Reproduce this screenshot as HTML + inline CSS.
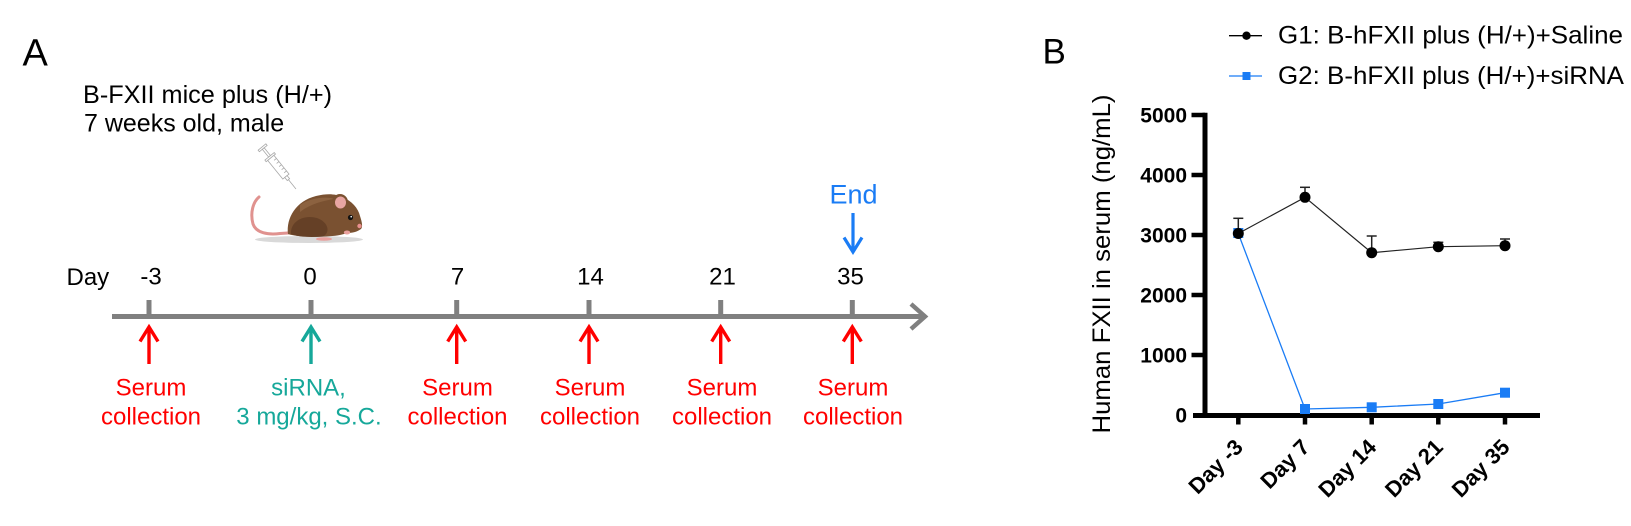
<!DOCTYPE html>
<html><head><meta charset="utf-8"><style>
html,body{margin:0;padding:0;background:#fff;}
svg{display:block;}
text{font-family:"Liberation Sans",Arial,sans-serif;}
</style></head><body>
<svg width="1631" height="526" viewBox="0 0 1631 526" xmlns="http://www.w3.org/2000/svg">
<rect width="1631" height="526" fill="#fff"/>

<!-- ========== Panel A ========== -->
<text x="22.5" y="65.7" font-size="38" fill="#000">A</text>
<text x="83" y="103" font-size="25" fill="#000" textLength="249" lengthAdjust="spacingAndGlyphs">B-FXII mice plus (H/+)</text>
<text x="84" y="131.5" font-size="25" fill="#000">7 weeks old, male</text>

<!-- syringe -->
<g transform="translate(262,147) rotate(51)" stroke="#a8a8a8" stroke-width="0.8" fill="#fff">
  <rect x="0" y="-5" width="2" height="10"/>
  <rect x="2" y="-1.2" width="10" height="2.4"/>
  <rect x="12" y="-6" width="2" height="12"/>
  <rect x="14" y="-4" width="24" height="8"/>
  <line x1="18" y1="-4" x2="18" y2="-1"/>
  <line x1="22" y1="-4" x2="22" y2="-1"/>
  <line x1="26" y1="-4" x2="26" y2="-1"/>
  <line x1="30" y1="-4" x2="30" y2="-1"/>
  <line x1="34" y1="-4" x2="34" y2="-1"/>
  <rect x="38" y="-1.5" width="4" height="3"/>
  <line x1="42" y1="0" x2="54" y2="0"/>
</g>

<!-- mouse -->
<ellipse cx="309" cy="239.5" rx="54" ry="3.5" fill="#d9d9d9"/>
<path d="M259 197 C253 202,250 213,253 224 C256 233,268 235,280 233.5 L296 232.5" stroke="#e0928f" stroke-width="3" fill="none" stroke-linecap="round"/>
<path d="M288 234 C286 218,296 201,316 196 C328 193,336 194,342 197 C352 201,358 208,360 216 C362 222,363 227,361 229 C357 232,352 233,348 233 L340 235 C330 237,300 238,288 234 Z" fill="#7a5131"/>
<path d="M300 205 C310 198,325 196,335 199 C325 200,310 204,300 212 Z" fill="#8c6240"/>
<path d="M291 234 C290 222,303 214,317 218 C328 222,331 232,323 236.5 C310 237.5,298 237,291 234 Z" fill="#654026"/>
<circle cx="340" cy="202" r="8" fill="#7a5131"/>
<ellipse cx="340.5" cy="202.5" rx="5.5" ry="6" fill="#e8a5a2"/>
<circle cx="350.5" cy="217.5" r="2.6" fill="#111"/>
<circle cx="351.2" cy="216.7" r="0.8" fill="#fff"/>
<circle cx="359.5" cy="226" r="2.2" fill="#e9908e"/>
<ellipse cx="347" cy="232.5" rx="3.2" ry="2" fill="#e9a09d"/>
<ellipse cx="324" cy="239" rx="8" ry="1.8" fill="#e9a09d"/>

<!-- End label and arrow -->
<text x="853.5" y="203.5" font-size="27" fill="#1a7cf5" text-anchor="middle">End</text>
<line x1="853" y1="213" x2="853" y2="251" stroke="#1a7cf5" stroke-width="3.2"/>
<polyline points="844,237.5 853,252 862,237.5" stroke="#1a7cf5" stroke-width="3.2" fill="none"/>

<!-- Day labels -->
<g font-size="24" fill="#000">
  <text x="66.5" y="285">Day</text>
  <text x="151" y="284.5" text-anchor="middle">-3</text>
  <text x="310" y="284.5" text-anchor="middle">0</text>
  <text x="457.5" y="284.5" text-anchor="middle">7</text>
  <text x="590.5" y="284.5" text-anchor="middle">14</text>
  <text x="722.5" y="284.5" text-anchor="middle">21</text>
  <text x="850.5" y="284.5" text-anchor="middle">35</text>
</g>

<!-- timeline -->
<line x1="112" y1="316.5" x2="923" y2="316.5" stroke="#808080" stroke-width="5"/>
<polyline points="911,304 925,316.5 911,329" stroke="#808080" stroke-width="4.5" fill="none"/>
<g fill="#808080">
  <rect x="146.5" y="300" width="5" height="16"/>
  <rect x="308.5" y="300" width="5" height="16"/>
  <rect x="454.2" y="300" width="5" height="16"/>
  <rect x="586.5" y="300" width="5" height="16"/>
  <rect x="718.2" y="300" width="5" height="16"/>
  <rect x="849.8" y="300" width="5" height="16"/>
</g>

<!-- up arrows -->
<g stroke="#ff0000" stroke-width="3.4" fill="none">
  <line x1="149" y1="327" x2="149" y2="364"/><polyline points="140,341.5 149,327 158,341.5"/>
  <line x1="456.7" y1="327" x2="456.7" y2="364"/><polyline points="447.7,341.5 456.7,327 465.7,341.5"/>
  <line x1="589" y1="327" x2="589" y2="364"/><polyline points="580,341.5 589,327 598,341.5"/>
  <line x1="720.7" y1="327" x2="720.7" y2="364"/><polyline points="711.7,341.5 720.7,327 729.7,341.5"/>
  <line x1="852.3" y1="327" x2="852.3" y2="364"/><polyline points="843.3,341.5 852.3,327 861.3,341.5"/>
</g>
<g stroke="#16a89a" stroke-width="3.4" fill="none">
  <line x1="311" y1="327" x2="311" y2="364"/><polyline points="302,341.5 311,327 320,341.5"/>
</g>

<!-- bottom labels -->
<g font-size="24" fill="#ff0000" text-anchor="middle">
  <text x="151" y="395.5">Serum</text><text x="151" y="424.5">collection</text>
  <text x="457.5" y="395.5">Serum</text><text x="457.5" y="424.5">collection</text>
  <text x="590" y="395.5">Serum</text><text x="590" y="424.5">collection</text>
  <text x="722" y="395.5">Serum</text><text x="722" y="424.5">collection</text>
  <text x="853" y="395.5">Serum</text><text x="853" y="424.5">collection</text>
</g>
<g font-size="24" fill="#16a89a" text-anchor="middle">
  <text x="308.5" y="395.5">siRNA,</text>
  <text x="309" y="424.5">3 mg/kg, S.C.</text>
</g>

<!-- ========== Panel B ========== -->
<text x="1042.5" y="63.3" font-size="35" fill="#000">B</text>

<!-- legend -->
<line x1="1229" y1="35.7" x2="1262" y2="35.7" stroke="#000" stroke-width="1.3"/>
<circle cx="1246.5" cy="35.7" r="4.2" fill="#000"/>
<text x="1278" y="43.5" font-size="25" fill="#000" textLength="345" lengthAdjust="spacingAndGlyphs">G1: B-hFXII plus (H/+)+Saline</text>
<line x1="1229" y1="76" x2="1262" y2="76" stroke="#1a7cf5" stroke-width="1.3"/>
<rect x="1242.5" y="72" width="8" height="8" fill="#1a7cf5"/>
<text x="1278" y="84" font-size="25" fill="#000" textLength="346" lengthAdjust="spacingAndGlyphs">G2: B-hFXII plus (H/+)+siRNA</text>

<!-- y label -->
<text transform="translate(1110,264) rotate(-90)" text-anchor="middle" font-size="25" fill="#000" textLength="339" lengthAdjust="spacingAndGlyphs">Human FXII in serum (ng/mL)</text>

<!-- y ticks labels -->
<g font-size="21" font-weight="bold" fill="#000" text-anchor="end">
  <text x="1187" y="122.5">5000</text>
  <text x="1187" y="182.5">4000</text>
  <text x="1187" y="242.5">3000</text>
  <text x="1187" y="302.5">2000</text>
  <text x="1187" y="362.5">1000</text>
  <text x="1187" y="422.5">0</text>
</g>

<!-- axes -->
<g stroke="#000">
  <line x1="1205" y1="112.8" x2="1205" y2="418" stroke-width="5"/>
  <line x1="1191.5" y1="115" x2="1205" y2="115" stroke-width="4.5"/>
  <line x1="1191.5" y1="175" x2="1205" y2="175" stroke-width="4.5"/>
  <line x1="1191.5" y1="235" x2="1205" y2="235" stroke-width="4.5"/>
  <line x1="1191.5" y1="295" x2="1205" y2="295" stroke-width="4.5"/>
  <line x1="1191.5" y1="355" x2="1205" y2="355" stroke-width="4.5"/>
  <line x1="1193" y1="415.5" x2="1540" y2="415.5" stroke-width="5"/>
  <line x1="1238.3" y1="415" x2="1238.3" y2="424.5" stroke-width="4.5"/>
  <line x1="1305" y1="415" x2="1305" y2="424.5" stroke-width="4.5"/>
  <line x1="1371.7" y1="415" x2="1371.7" y2="424.5" stroke-width="4.5"/>
  <line x1="1438.3" y1="415" x2="1438.3" y2="424.5" stroke-width="4.5"/>
  <line x1="1505" y1="415" x2="1505" y2="424.5" stroke-width="4.5"/>
</g>

<!-- x labels -->
<g font-size="22" font-weight="bold" fill="#000" text-anchor="end">
  <text transform="translate(1244.3,448.5) rotate(-45)">Day -3</text>
  <text transform="translate(1311,448.5) rotate(-45)">Day 7</text>
  <text transform="translate(1377.7,448.5) rotate(-45)">Day 14</text>
  <text transform="translate(1444.3,448.5) rotate(-45)">Day 21</text>
  <text transform="translate(1511,448.5) rotate(-45)">Day 35</text>
</g>

<!-- G2 series -->
<polyline points="1238.3,233.5 1305,409 1371.7,407.3 1438.3,404 1505,392.7" stroke="#1a7cf5" stroke-width="1.3" fill="none"/>
<g fill="#1a7cf5">
  <rect x="1233.3" y="228" width="10" height="10"/>
  <rect x="1300" y="404" width="10" height="10"/>
  <rect x="1366.7" y="402.3" width="10" height="10"/>
  <rect x="1433.3" y="399" width="10" height="10"/>
  <rect x="1500" y="387.7" width="10" height="10"/>
</g>

<!-- G1 series -->
<polyline points="1238.3,233.5 1305,197.3 1371.7,252.7 1438.3,246.7 1505,245.7" stroke="#222" stroke-width="1.2" fill="none"/>
<g stroke="#222" stroke-width="1.5">
  <line x1="1238.3" y1="233.5" x2="1238.3" y2="218.3"/><line x1="1233.3" y1="218.3" x2="1243.3" y2="218.3"/>
  <line x1="1305" y1="197.3" x2="1305" y2="187.3"/><line x1="1300" y1="187.3" x2="1310" y2="187.3"/>
  <line x1="1371.7" y1="252.7" x2="1371.7" y2="236"/><line x1="1366.7" y1="236" x2="1376.7" y2="236"/>
  <line x1="1438.3" y1="246.7" x2="1438.3" y2="242.3"/><line x1="1433.3" y1="242.3" x2="1443.3" y2="242.3"/>
  <line x1="1505" y1="245.7" x2="1505" y2="239"/><line x1="1500" y1="239" x2="1510" y2="239"/>
</g>
<g fill="#000">
  <circle cx="1238.3" cy="233.5" r="5.5"/>
  <circle cx="1305" cy="197.3" r="5.5"/>
  <circle cx="1371.7" cy="252.7" r="5.5"/>
  <circle cx="1438.3" cy="246.7" r="5.5"/>
  <circle cx="1505" cy="245.7" r="5.5"/>
</g>
</svg>
</body></html>
